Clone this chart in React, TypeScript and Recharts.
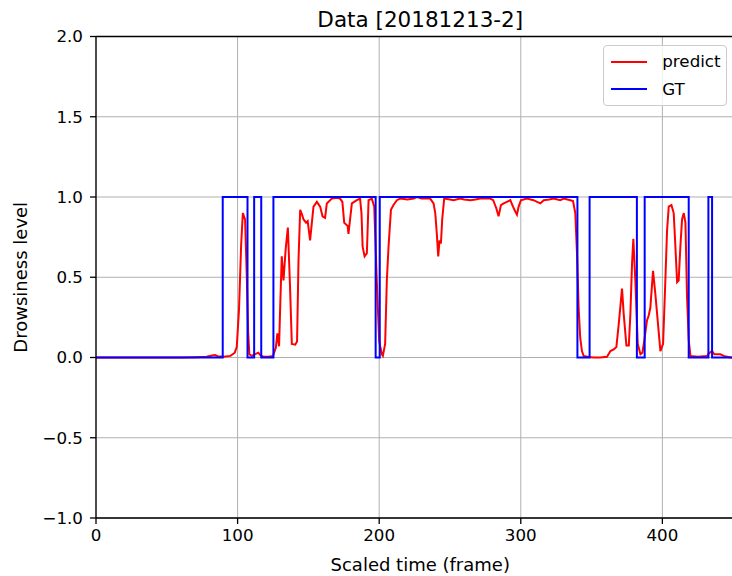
import React from "react";
import {
  LineChart,
  Line,
  XAxis,
  YAxis,
  CartesianGrid,
  ReferenceLine,
  Legend,
} from "recharts";

// Model output (predicted drowsiness level) per scaled frame
const predictFrames = [
  0, 20, 40, 60, 70, 78, 82, 84, 86, 90, 95, 98, 99.4, 101, 102.5, 103.7, 105.3,
  106.5, 107.5, 108.3, 110, 112, 114.7, 116, 118, 122, 125, 127, 128.1, 129.3,
  130.2, 131.2, 132.4, 134, 135.5, 137, 138.3, 140.7, 142, 143, 144.2, 145.5,
  146.6, 148.4, 149.5, 151.2, 153.6, 156, 158.3, 160, 161.8, 163, 166.5, 170,
  172.4, 174, 175.3, 177.7, 178.3, 180.7, 184.2, 186.5, 187.5, 188.3, 189.7,
  191.3, 192.5, 194.8, 196.5, 198.3, 200, 201.9, 202.6, 204.2, 205.4, 206.6,
  208.3, 210.1, 212.5, 214.9, 220, 224.3, 226.6, 230, 236, 238.4, 239.6, 240.7,
  241.7, 242.6, 243.6, 244.5, 245.9, 250, 252.5, 257.2, 260, 264.3, 268, 271.4,
  275, 278.4, 280.5, 282.7, 284.3, 286, 287.9, 290.2, 292.6, 294.5, 296.1, 297.3,
  298.5, 300.1, 304.3, 309, 311.5, 313.8, 316.2, 320, 323.2, 327.9, 330.3, 335,
  336.9, 338.5, 339.7, 340.9, 342, 343.2, 344.4, 348, 351.4, 356, 360.9, 363.3,
  365.6, 367.5, 369.2, 371.5, 372.7, 374.6, 376.3, 377.4, 378.6, 379.5, 380.9,
  382.6, 384.5, 385.9, 387.3, 389.1, 390.3, 391.5, 393.4, 395, 396.7, 398.6,
  400.5, 402.1, 403.3, 404.5, 406.4, 408, 409.2, 410.4, 411.5, 412.7, 413.9,
  415.1, 416.3, 417.4, 418.6, 419.8, 425, 431.5, 433.4, 435.1, 436.7, 441, 443.3,
  448, 458,
];
const predictLevels = [
  0, 0, 0, 0, 0.002, 0.005, 0.012, 0.015, 0.008, 0.005, 0.01, 0.03, 0.065, 0.3,
  0.7, 0.9, 0.86, 0.5, 0.15, 0.02, 0.01, 0.02, 0.03, 0.015, 0.005, 0.005, 0.01,
  0.06, 0.15, 0.07, 0.35, 0.63, 0.48, 0.68, 0.81, 0.45, 0.085, 0.08, 0.1, 0.6,
  0.92, 0.89, 0.86, 0.84, 0.85, 0.73, 0.94, 0.97, 0.94, 0.88, 0.87, 0.96, 0.99,
  0.995, 0.99, 0.97, 0.84, 0.82, 0.77, 0.96, 0.98, 0.99, 0.9, 0.69, 0.63, 0.65,
  0.98, 0.99, 0.94, 0.48, 0.1, 0.02, 0.01, 0.085, 0.48, 0.69, 0.92, 0.95, 0.98,
  0.99, 0.985, 0.99, 1.0, 0.99, 0.99, 0.96, 0.9, 0.77, 0.63, 0.73, 0.71, 0.86,
  0.99, 0.985, 0.98, 0.99, 0.985, 0.98, 0.985, 0.99, 0.99, 0.99, 0.98, 0.93,
  0.88, 0.95, 0.96, 0.97, 0.98, 0.94, 0.91, 0.89, 0.94, 0.98, 0.99, 0.98, 0.97,
  0.96, 0.98, 0.985, 0.99, 0.98, 0.99, 0.98, 0.975, 0.9, 0.65, 0.3, 0.12, 0.04,
  0.01, 0.003, 0, 0, 0.005, 0.04, 0.05, 0.065, 0.21, 0.43, 0.27, 0.075, 0.075,
  0.27, 0.59, 0.74, 0.48, 0.085, 0.02, 0.03, 0.11, 0.23, 0.26, 0.31, 0.54, 0.4,
  0.23, 0.04, 0.085, 0.48, 0.79, 0.94, 0.95, 0.9, 0.69, 0.47, 0.48, 0.69, 0.86,
  0.9, 0.84, 0.38, 0.11, 0.01, 0.005, 0.01, 0.03, 0.04, 0.02, 0.02, 0.01, 0, 0,
];

// Ground truth: frames where the labelled level changes, and the level held from there
const gtFrames = [
  0, 89.5, 107, 111.7, 116.7, 125.3, 197.5, 200.4, 340, 348.6, 382, 387.5,
  418.6, 432.5, 435.1, 458,
];
const gtLevels = [0, 1, 0, 1, 0, 1, 0, 1, 0, 1, 0, 1, 0, 1, 0, 0];

const xTicks = [0, 100, 200, 300, 400];
const yTicks = [-1, -0.5, 0, 0.5, 1, 1.5, 2];

const chartTitle = "Data [20181213-2]";
const xLabel = "Scaled time (frame)";
const yLabel = "Drowsiness level";

const seriesInfo = [
  { name: "predict", color: "#ff0000" },
  { name: "GT", color: "#0000ff" },
];

const predictData = predictFrames.map((frame, i) => ({ frame, level: predictLevels[i] }));
const gtData = gtFrames.map((frame, i) => ({ frame, level: gtLevels[i] }));

const FONT = '"DejaVu Sans", sans-serif';
const TICK_FONT = 16.7;
const LABEL_FONT = 18;
const TITLE_FONT = 21.5;

const fmtY = (v: number) => v.toFixed(1).replace("-", "\u2212");

const LegendBox = () => (
  <div
    style={{
      width: 124,
      height: 61,
      boxSizing: "border-box",
      border: "1px solid #cccccc",
      borderRadius: 4,
      background: "rgba(255,255,255,0.8)",
      paddingTop: 2,
      fontFamily: FONT,
      fontSize: TICK_FONT,
      color: "#000",
    }}
  >
    {seriesInfo.map((s) => (
      <div
        key={s.name}
        style={{ height: 27.6, display: "flex", alignItems: "center" }}
      >
        <div
          style={{
            marginLeft: 6.7,
            width: 36.6,
            height: 2,
            background: s.color,
          }}
        />
        <span style={{ marginLeft: 15, lineHeight: 1 }}>{s.name}</span>
      </div>
    ))}
  </div>
);

const YAxisTitle = (props: any) => {
  const vb = props.viewBox || { x: 0, y: 36.5, width: 96, height: 481.5 };
  const cx = vb.x + 27;
  const cy = vb.y + vb.height / 2;
  return (
    <text
      x={cx}
      y={cy}
      transform={`rotate(-90 ${cx} ${cy})`}
      textAnchor="middle"
      fontFamily={FONT}
      fontSize={LABEL_FONT}
      fill="#000"
    >
      {yLabel}
    </text>
  );
};

export default function App() {
  return (
    <div
      style={{
        position: "absolute",
        left: 0,
        top: 0,
        width: 732,
        height: 576,
        overflow: "hidden",
        background: "#fff",
      }}
    >
      <LineChart
        width={750}
        height={576}
        margin={{ top: 36.5, right: 5.5, bottom: 0, left: 0 }}
      >
        <CartesianGrid stroke="#b0b0b0" strokeWidth={1} />
        <XAxis
          type="number"
          dataKey="frame"
          domain={[0, 458]}
          ticks={xTicks}
          allowDataOverflow
          height={58}
          tickSize={6}
          tickMargin={5}
          axisLine={{ stroke: "#000", strokeWidth: 1.3 }}
          tickLine={{ stroke: "#000", strokeWidth: 1.3 }}
          tick={{ fill: "#000", fontSize: TICK_FONT, fontFamily: FONT }}
          label={{
            value: xLabel,
            position: "insideBottom",
            offset: 5,
            fill: "#000",
            fontSize: LABEL_FONT,
            fontFamily: FONT,
          }}
        />
        <YAxis
          type="number"
          dataKey="level"
          domain={[-1, 2]}
          ticks={yTicks}
          allowDataOverflow
          width={96}
          tickSize={6}
          tickMargin={7}
          tickFormatter={fmtY}
          axisLine={{ stroke: "#000", strokeWidth: 1.3 }}
          tickLine={{ stroke: "#000", strokeWidth: 1.3 }}
          tick={{ fill: "#000", fontSize: TICK_FONT, fontFamily: FONT }}
          label={<YAxisTitle />}
        />
        <Line
          data={predictData}
          dataKey="level"
          name="predict"
          type="linear"
          stroke="#ff0000"
          strokeWidth={2}
          dot={false}
          activeDot={false}
          isAnimationActive={false}
        />
        <Line
          data={gtData}
          dataKey="level"
          name="GT"
          type="stepAfter"
          stroke="#0000ff"
          strokeWidth={2}
          dot={false}
          activeDot={false}
          isAnimationActive={false}
        />
        <ReferenceLine
          y={2}
          stroke="#000"
          strokeWidth={1.3}
          label={{
            value: chartTitle,
            position: "top",
            offset: 10,
            fill: "#000",
            fontSize: TITLE_FONT,
            fontFamily: FONT,
          }}
        />
        <Legend
          layout="vertical"
          align="center"
          verticalAlign="middle"
          wrapperStyle={{ left: 603, top: 45, width: 124, margin: 0 }}
          content={() => <LegendBox />}
        />
      </LineChart>
    </div>
  );
}
